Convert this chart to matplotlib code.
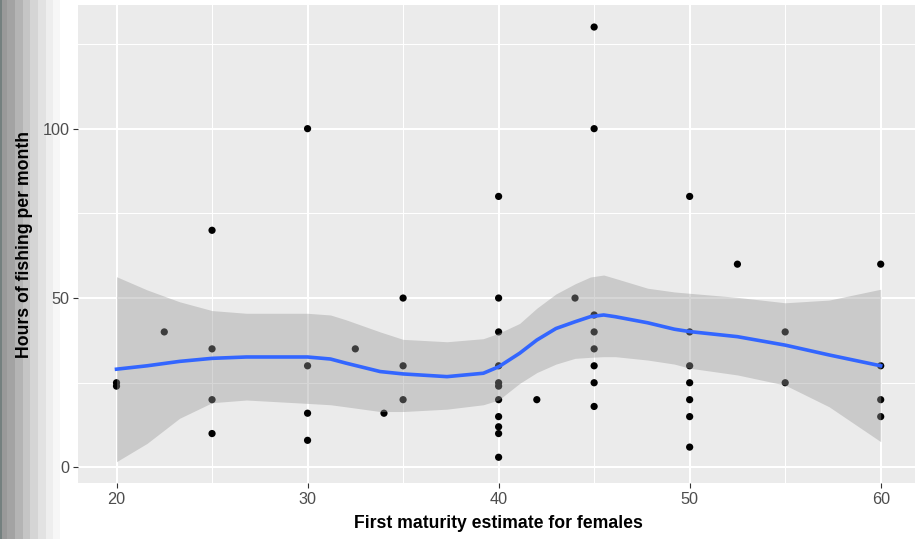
import numpy as np
import matplotlib
matplotlib.use("Agg")
import matplotlib.pyplot as plt
from matplotlib.patches import Rectangle

# ---- data ----
maturity = [20, 20, 22.5, 25, 25, 25, 25, 30, 30, 30, 30, 32.5, 34, 35, 35, 35,
            40, 40, 40, 40, 40, 40, 40, 40, 40, 40, 40, 42, 44,
            45, 45, 45, 45, 45, 45, 45, 45,
            50, 50, 50, 50, 50, 50, 50, 52.5, 55, 55, 60, 60, 60, 60]
hours = [24, 25, 40, 70, 35, 20, 10, 100, 30, 16, 8, 35, 16, 50, 30, 20,
         80, 50, 40, 30, 25, 24, 20, 15, 12, 10, 3, 20, 50,
         130, 100, 45, 40, 35, 30, 25, 18,
         80, 40, 30, 25, 20, 15, 6, 60, 40, 25, 60, 30, 20, 15]

# loess smooth and its 95% band
smooth_x = [20, 21.6, 23.3, 25, 26.8, 30, 31.2, 32, 33.8, 35, 37.3, 39.2, 40, 41.1, 42,
            43, 44, 44.8, 45.5, 46.1, 47.8, 49.2, 50, 52.5, 55, 57.3, 60]
smooth_fit = [29.0, 30.0, 31.3, 32.2, 32.6, 32.6, 32.0, 30.8, 28.3, 27.6, 26.8, 27.8, 29.7,
              33.7, 37.6, 41.0, 43.0, 44.5, 45.0, 44.5, 42.7, 40.8, 40.1, 38.6, 36.1, 33.2, 30.0]
smooth_lower = [1.7, 7.1, 14.5, 19.1, 19.9, 18.9, 18.5, 17.9, 16.5, 16.5, 17.2, 18.5, 19.9,
                24.8, 28.0, 30.5, 32.2, 32.5, 32.7, 32.7, 31.7, 30.5, 29.3, 27.3, 24.3, 17.9, 7.6]
smooth_upper = [56.3, 52.4, 48.9, 46.3, 45.5, 45.5, 45.0, 43.6, 40.0, 37.8, 37.1, 38.0, 39.6,
                42.5, 47.0, 51.2, 54.2, 56.2, 56.8, 55.8, 52.9, 51.8, 51.4, 50.2, 48.6, 49.4, 52.6]

x_ticks = [20, 30, 40, 50, 60]
x_minor = [25, 35, 45, 55]
y_ticks = [0, 50, 100]
y_minor = [25, 75, 125]
x_label = "First maturity estimate for females"
y_label = "Hours of fishing per month"

x = np.array(maturity, float)
y = np.array(hours, float)

# ---- figure ----
W, H = 915, 539
fig = plt.figure(figsize=(W / 100, H / 100), dpi=100)
fig.patch.set_facecolor("white")

# left grey gradient strip
bands = [(0, 2, "#74807f"), (2, 7, "#999999"), (7, 15, "#a3a3a3"), (15, 23, "#b4b4b4"),
         (23, 30, "#c5c5c5"), (30, 38, "#d5d5d5"), (38, 46, "#e2e2e2"),
         (46, 53, "#eeeeee"), (53, 60, "#f7f7f7")]
for x0, x1, c in bands:
    fig.patches.append(Rectangle((x0 / W, 0), (x1 - x0) / W, 1, transform=fig.transFigure,
                                 facecolor=c, edgecolor="none", zorder=-10))

# panel geometry (pixels)
px_left, px_top, px_bottom = 78.3, 5.3, 483.4
xpad = 0.05 * (x.max() - x.min())
xlim = (x.min() - xpad, x.max() + xpad)
ppu = (880.7 - 116.5) / (x.max() - x.min())
px_right = px_left + (xlim[1] - xlim[0]) * ppu
ax = fig.add_axes([px_left / W, 1 - px_bottom / H, (px_right - px_left) / W,
                   (px_bottom - px_top) / H])
ax.set_facecolor("#EBEBEB")
for sp in ax.spines.values():
    sp.set_visible(False)

ymin = min(y.min(), min(smooth_lower))
ymax = max(y.max(), max(smooth_upper))
ypad = 0.05 * (ymax - ymin)
ax.set_ylim(ymin - ypad, ymax + ypad)
ax.set_xlim(*xlim)

ax.set_xticks(x_ticks)
ax.set_yticks(y_ticks)
ax.set_xticks(x_minor, minor=True)
ax.set_yticks(y_minor, minor=True)
ax.grid(which="major", color="white", linewidth=1.45)
ax.grid(which="minor", color="white", linewidth=0.75)
ax.set_axisbelow(True)
ax.tick_params(which="major", direction="out", length=3.3, width=0.8, color="#333333",
               labelsize=11.7, labelcolor="#4D4D4D", pad=3)
ax.tick_params(which="minor", length=0)
for lab in ax.get_xticklabels() + ax.get_yticklabels():
    lab.set_fontfamily("Liberation Sans")

ax.scatter(x, y, s=27, color="black", edgecolors="none", zorder=2)
ax.fill_between(smooth_x, smooth_lower, smooth_upper, color="#999999", alpha=0.4,
                linewidth=0, zorder=3)
ax.plot(smooth_x, smooth_fit, color="#3366FF", linewidth=2.6, zorder=4,
        solid_joinstyle="round")

fig.text((px_left + (px_right - px_left) / 2) / W, 1 - 523 / H, x_label,
         ha="center", va="center", fontsize=12.7, fontweight="bold",
         family="Liberation Sans", color="black")
fig.text(25 / W, 1 - ((px_top + px_bottom) / 2) / H, y_label, rotation=90,
         ha="center", va="center", fontsize=12.7, fontweight="bold",
         family="Liberation Sans", color="black")

fig.savefig("out.png", dpi=100)
